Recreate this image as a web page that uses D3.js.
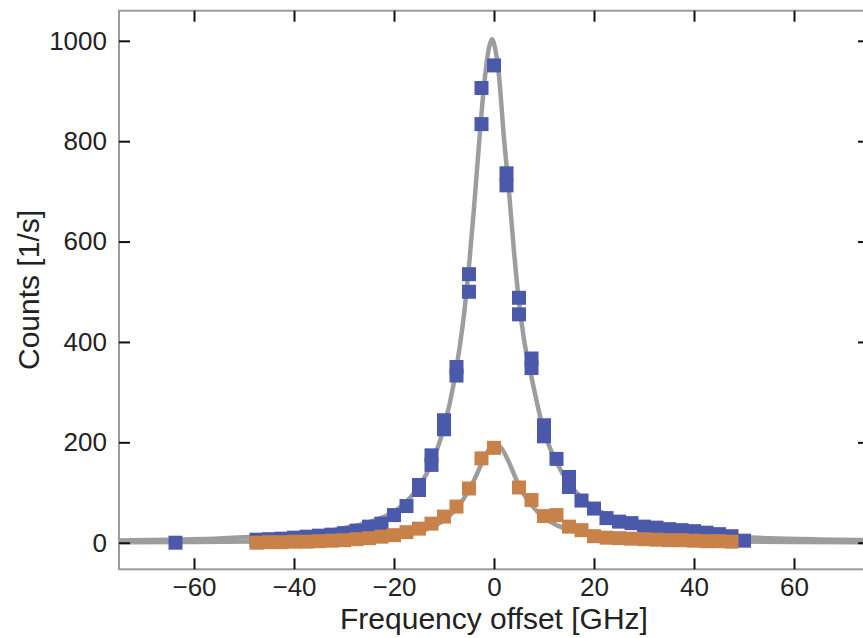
<!DOCTYPE html>
<html>
<head>
<meta charset="utf-8">
<script src="https://cdn.jsdelivr.net/npm/d3@7"></script>
<style>
  body { margin: 0; background: #fff; }
  text { font-family: "Liberation Sans", Arial, sans-serif; fill: #222; }
</style>
</head>
<body>
<svg id="chart" width="863" height="638"></svg>
<script>
var xTicks = [-60, -40, -20, 0, 20, 40, 60];
var yTicks = [0, 200, 400, 600, 800, 1000];

// measured counts, first sweep (blue) - some offsets were measured twice
var blueX = [-63.7, -47.5, -45, -42.5, -40, -37.5, -35, -32.5, -30, -27.5, -25, -22.5, -20, -17.5,
  -15, -15, -12.5, -12.5, -10, -10, -7.5, -7.5, -5, -5, -2.5, -2.5, 0, 2.5, 2.5, 5, 5, 7.5, 7.5,
  10, 10, 12.5, 15, 15, 17.5, 20, 22.5, 25, 27.5, 30, 32.5, 35, 37.5, 40, 42.5, 45, 47.5, 50];
var blueY = [0, 6, 7, 8, 10, 12, 14, 16, 19, 24, 32, 38, 55, 73,
  115, 105, 174, 155, 244, 226, 350, 333, 535, 500, 906, 834, 951, 736, 712, 488, 455, 367, 348,
  234, 212, 167, 131, 111, 84, 68, 49, 42, 39, 32, 30, 27, 25, 23, 20, 17, 13, 4];

// second series (orange)
var orangeX = [-47.5, -45, -42.5, -40, -37.5, -35, -32.5, -30, -27.5, -25, -22.5, -20, -17.5, -15,
  -12.5, -10, -7.5, -5, -2.5, 0, 5, 7.5, 10, 12.5, 15, 17.5, 20, 22.5, 25, 27.5, 30, 32.5, 35,
  37.5, 40, 42.5, 45, 47.5];
var orangeY = [0, 1, 1, 2, 2, 3, 4, 5, 7, 9, 12, 15, 21, 28,
  38, 52, 72, 108, 168, 189, 110, 85, 53, 55, 32, 25, 13, 10, 9, 8, 7, 6, 5,
  5, 4, 3, 3, 2];

// fitted curves
var blueFitX = [-75, -65, -55, -45, -40, -35, -30, -25, -20, -17.5, -15, -12.5, -10, -8, -6, -5, -4,
  -3, -2, -1, -0.4, 0.3, 1, 2, 3, 4, 5, 6, 7.5, 10, 12.5, 15, 17.5, 20, 25, 30, 35, 40, 45, 55, 65, 75];
var blueFitY = [4.5, 6, 8.5, 13, 16, 21, 29, 41, 62, 82, 112, 158, 230, 320, 455, 551, 667,
  794, 910, 986, 1003, 981, 930, 805, 700, 580, 480, 405, 330, 222, 160, 118, 90, 70, 45, 32, 24, 18, 14, 9, 6.5, 5];
var orangeFitX = [-75, -60, -48, -40, -35, -30, -25, -20, -17.5, -15, -12.5, -10, -7.5, -5, -3.5, -2,
  -1, 0.3, 1.5, 3, 4.5, 6, 7.5, 10, 12.5, 15, 17.5, 20, 25, 30, 40, 48, 60, 75];
var orangeFitY = [1, 1.5, 2.4, 3.4, 4.5, 6, 8.5, 14, 17, 22, 31, 45, 68, 105, 135, 168,
  186, 196, 188, 160, 125, 96, 75, 50, 35, 26, 20, 15, 9, 6.2, 3.5, 2.5, 1.6, 1];

var svg = d3.select("#chart");
var plotLeft = 119, plotRight = 869, plotTop = 10.7, plotBottom = 569.3;

var x = d3.scaleLinear().domain([-75, 75]).range([plotLeft, plotRight]);
var y = d3.scaleLinear().domain([-53, 1060]).range([plotBottom, plotTop]);

svg.append("clipPath").attr("id", "clip")
  .append("rect")
  .attr("x", plotLeft).attr("y", plotTop)
  .attr("width", plotRight - plotLeft).attr("height", plotBottom - plotTop);

// frame
svg.append("rect")
  .attr("x", plotLeft).attr("y", plotTop)
  .attr("width", plotRight - plotLeft).attr("height", plotBottom - plotTop)
  .attr("fill", "none")
  .attr("stroke", "#9b9b9b")
  .attr("stroke-width", 2);

var plot = svg.append("g").attr("clip-path", "url(#clip)");

var line = d3.line()
  .x(function (d) { return x(d[0]); })
  .y(function (d) { return y(d[1]); })
  .curve(d3.curveMonotoneX);

plot.append("path")
  .datum(d3.zip(orangeFitX, orangeFitY))
  .attr("d", line)
  .attr("fill", "none")
  .attr("stroke", "#9d9d9d")
  .attr("stroke-width", 4.5);

plot.append("path")
  .datum(d3.zip(blueFitX, blueFitY))
  .attr("d", line)
  .attr("fill", "none")
  .attr("stroke", "#9d9d9d")
  .attr("stroke-width", 4.5);

var size = 14;

plot.append("g")
  .selectAll("rect")
  .data(d3.zip(blueX, blueY))
  .enter()
  .append("rect")
  .attr("x", function (d) { return x(d[0]) - size / 2; })
  .attr("y", function (d) { return y(d[1]) - size / 2; })
  .attr("width", size)
  .attr("height", size)
  .attr("fill", "#4b59ab");

plot.append("g")
  .selectAll("rect")
  .data(d3.zip(orangeX, orangeY))
  .enter()
  .append("rect")
  .attr("x", function (d) { return x(d[0]) - size / 2; })
  .attr("y", function (d) { return y(d[1]) - size / 2; })
  .attr("width", size)
  .attr("height", size)
  .attr("fill", "#c9814a");

function styleAxis(g) {
  g.select(".domain").remove();
  g.selectAll(".tick line").attr("stroke", "#111").attr("stroke-width", 2);
  g.selectAll(".tick text").style("font-size", "26px").attr("fill", "#1a1a1a");
}

svg.append("g")
  .attr("transform", "translate(0," + plotBottom + ")")
  .call(d3.axisBottom(x).tickValues(xTicks).tickSizeInner(-11).tickSizeOuter(0).tickPadding(8))
  .call(styleAxis);

svg.append("g")
  .attr("transform", "translate(0," + plotTop + ")")
  .call(d3.axisTop(x).tickValues(xTicks).tickSizeInner(-11).tickSizeOuter(0).tickFormat(""))
  .call(styleAxis);

svg.append("g")
  .attr("transform", "translate(" + plotLeft + ",0)")
  .call(d3.axisLeft(y).tickValues(yTicks).tickSizeInner(-11).tickSizeOuter(0).tickPadding(12).tickFormat(d3.format("d")))
  .call(styleAxis);

svg.append("g")
  .attr("transform", "translate(" + plotRight + ",0)")
  .call(d3.axisRight(y).tickValues(yTicks).tickSizeInner(-11).tickSizeOuter(0).tickFormat(""))
  .call(styleAxis);

svg.append("text")
  .attr("x", x(0))
  .attr("y", 629)
  .attr("text-anchor", "middle")
  .style("font-size", "30px")
  .text("Frequency offset [GHz]");

svg.append("text")
  .attr("transform", "translate(39," + (plotTop + plotBottom) / 2 + ") rotate(-90)")
  .attr("text-anchor", "middle")
  .style("font-size", "30px")
  .text("Counts [1/s]");
</script>
</body>
</html>
